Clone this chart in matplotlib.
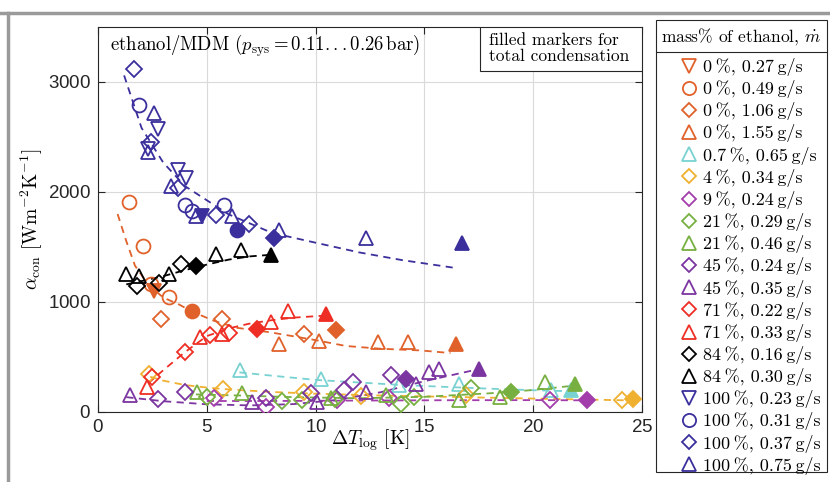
import matplotlib
matplotlib.use("Agg")
import matplotlib.pyplot as plt
from matplotlib.lines import Line2D
from matplotlib.patches import Rectangle

plt.rcParams['font.family'] = ['cmr10', 'DejaVu Serif']
plt.rcParams['mathtext.fontset'] = 'cm'
plt.rcParams['axes.unicode_minus'] = False
plt.rcParams['axes.formatter.use_mathtext'] = True

# --- colours ---
c_blue = '#3a2f9c'
c_orange = '#e0612a'
c_red = '#ee2e24'
c_cyan = '#78d2d2'
c_yellow = '#f0b030'
c_magenta = '#a23dab'
c_purple = '#7b35a0'
c_green = '#77b040'
c_black = '#000000'

# --- data (last point of every series = total condensation, filled) ---
# 0 %
x_0_027 = [2.58]
y_0_027 = [1102]
x_0_049 = [1.43, 2.05, 2.43, 3.27, 4.31]
y_0_049 = [1909, 1509, 1162, 1042, 915]
x_0_106 = [2.89, 5.72, 9.47, 10.92]
y_0_106 = [846, 846, 711, 741]
x_0_155 = [8.30, 10.16, 12.85, 14.23, 16.46]
y_0_155 = [620, 650, 635, 635, 620]
# 0.7 %
x_07_065 = [6.54, 10.24, 13.85, 16.61, 20.84, 21.76]
y_07_065 = [386, 304, 244, 259, 199, 199]
# 4 %
x_4_034 = [2.36, 5.74, 9.47, 12.1, 16.92, 24.06, 24.60]
y_4_034 = [350, 208, 184, 150, 154, 108, 115]
# 9 %
x_9_024 = [5.31, 7.73, 11.0, 13.39, 20.76, 22.45]
y_9_024 = [123, 48, 108, 123, 108, 108]
# 21 %
x_21_029 = [5.0, 8.46, 9.39, 10.9, 13.93, 14.54, 17.15, 19.0]
y_21_029 = [138, 102, 108, 120, 72, 138, 214, 184]
x_21_046 = [4.54, 6.61, 10.7, 13.23, 16.61, 18.46, 20.53, 21.91]
y_21_046 = [184, 175, 126, 154, 108, 138, 274, 259]
# 45 %
x_45_024 = [2.77, 4.0, 7.73, 9.8, 11.31, 11.7, 13.47, 14.16]
y_45_024 = [117, 184, 123, 170, 199, 274, 334, 304]
x_45_035 = [1.47, 7.07, 10.08, 12.3, 14.62, 15.23, 15.69, 17.50]
y_45_035 = [154, 93, 93, 184, 253, 364, 395, 395]
# 71 %
x_71_022 = [2.47, 4.0, 5.15, 6.0, 7.30]
y_71_022 = [319, 545, 696, 716, 756]
x_71_033 = [2.24, 4.69, 5.69, 7.95, 8.73, 10.49]
y_71_033 = [229, 680, 711, 816, 921, 891]
# 84 %
x_84_016 = [1.78, 2.81, 3.81, 4.50]
y_84_016 = [1147, 1177, 1343, 1328]
x_84_030 = [1.30, 1.89, 3.27, 5.42, 6.57, 7.95]
y_84_030 = [1253, 1238, 1253, 1434, 1470, 1427]
# 100 %
x_100_023 = [2.30, 2.78, 3.66, 4.04, 4.80]
y_100_023 = [2390, 2577, 2201, 2126, 1780]
x_100_031 = [1.89, 3.99, 4.34, 5.77, 6.41]
y_100_031 = [2794, 1879, 1825, 1879, 1659]
x_100_037 = [1.66, 2.43, 3.66, 5.42, 6.95, 8.10]
y_100_037 = [3119, 2457, 2035, 1795, 1705, 1578]
x_100_075 = [2.28, 2.59, 3.37, 4.50, 6.18, 8.34, 12.33, 16.74]
y_100_075 = [2367, 2719, 2051, 1780, 1780, 1650, 1584, 1538]

# --- dashed fit curves ---
fx_0 = [0.9, 1.3, 1.7, 2.3, 3.0, 3.7, 4.3, 5.3, 6.4, 7.9, 9.9, 11.4, 13.0, 14.8, 16.2]
fy_0 = [1800, 1554, 1330, 1160, 1040, 980, 915, 831, 765, 725, 657, 600, 575, 560, 536]
fx_07 = [6.5, 8.0, 10.0, 12.0, 14.0, 16.0, 18.0, 20.0, 21.8]
fy_07 = [360, 330, 292, 268, 245, 228, 212, 198, 188]
fx_4 = [2.4, 3.0, 4.0, 5.0, 6.0, 8.0, 10.0, 13.0, 16.0, 20.0, 24.6]
fy_4 = [320, 285, 245, 222, 205, 182, 166, 150, 138, 122, 105]
fx_9 = [5.0, 8.0, 12.0, 16.0, 20.0, 22.45]
fy_9 = [100, 100, 104, 107, 108, 106]
fx_21 = [4.5, 6.5, 9.0, 12.0, 15.0, 18.0, 20.0, 21.9]
fy_21 = [160, 150, 135, 125, 138, 170, 200, 240]
fx_45 = [1.3, 3.0, 5.0, 7.0, 9.0, 11.0, 13.0, 15.0, 17.5]
fy_45 = [135, 98, 70, 60, 72, 110, 180, 280, 390]
fx_71 = [2.3, 3.0, 4.0, 5.0, 6.0, 7.0, 8.0, 9.0, 10.4]
fy_71 = [260, 380, 545, 690, 760, 805, 835, 858, 876]
fx_84 = [1.3, 2.0, 3.0, 4.0, 5.0, 6.0, 7.0, 8.0]
fy_84 = [1160, 1190, 1235, 1290, 1340, 1385, 1415, 1430]
fx_100 = [1.2, 2.0, 3.0, 4.0, 6.0, 8.0, 10.0, 12.0, 14.0, 16.3]
fy_100 = [3060, 2583, 2267, 2053, 1797, 1628, 1539, 1451, 1380, 1313]

ts = '\u2009'  # thin space
series = [
    (x_0_027, y_0_027, 'v', c_orange, f'0{ts}%, 0.27{ts}g/s'),
    (x_0_049, y_0_049, 'o', c_orange, f'0{ts}%, 0.49{ts}g/s'),
    (x_0_106, y_0_106, 'D', c_orange, f'0{ts}%, 1.06{ts}g/s'),
    (x_0_155, y_0_155, '^', c_orange, f'0{ts}%, 1.55{ts}g/s'),
    (x_07_065, y_07_065, '^', c_cyan, f'0.7{ts}%, 0.65{ts}g/s'),
    (x_4_034, y_4_034, 'D', c_yellow, f'4{ts}%, 0.34{ts}g/s'),
    (x_9_024, y_9_024, 'D', c_magenta, f'9{ts}%, 0.24{ts}g/s'),
    (x_21_029, y_21_029, 'D', c_green, f'21{ts}%, 0.29{ts}g/s'),
    (x_21_046, y_21_046, '^', c_green, f'21{ts}%, 0.46{ts}g/s'),
    (x_45_024, y_45_024, 'D', c_purple, f'45{ts}%, 0.24{ts}g/s'),
    (x_45_035, y_45_035, '^', c_purple, f'45{ts}%, 0.35{ts}g/s'),
    (x_71_022, y_71_022, 'D', c_red, f'71{ts}%, 0.22{ts}g/s'),
    (x_71_033, y_71_033, '^', c_red, f'71{ts}%, 0.33{ts}g/s'),
    (x_84_016, y_84_016, 'D', c_black, f'84{ts}%, 0.16{ts}g/s'),
    (x_84_030, y_84_030, '^', c_black, f'84{ts}%, 0.30{ts}g/s'),
    (x_100_023, y_100_023, 'v', c_blue, f'100{ts}%, 0.23{ts}g/s'),
    (x_100_031, y_100_031, 'o', c_blue, f'100{ts}%, 0.31{ts}g/s'),
    (x_100_037, y_100_037, 'D', c_blue, f'100{ts}%, 0.37{ts}g/s'),
    (x_100_075, y_100_075, '^', c_blue, f'100{ts}%, 0.75{ts}g/s'),
]
fits = [
    (fx_0, fy_0, c_orange), (fx_07, fy_07, c_cyan), (fx_4, fy_4, c_yellow),
    (fx_9, fy_9, c_magenta), (fx_21, fy_21, c_green), (fx_45, fy_45, c_purple),
    (fx_71, fy_71, c_red), (fx_84, fy_84, c_black), (fx_100, fy_100, c_blue),
]

def msize(m):
    return 8 if m == 'D' else 10

fig = plt.figure(figsize=(8.3, 4.82), dpi=100)
ax = fig.add_axes([98 / 830, 70 / 482, 544 / 830, 385 / 482])

for fx, fy, c in fits:
    ax.plot(fx, fy, linestyle=(0, (4, 3)), color=c, lw=1.3, zorder=2)

handles = []
labels = []
for x, y, m, c, lab in series:
    ax.plot(x[:-1], y[:-1], linestyle='none', marker=m, ms=msize(m), mfc='none',
            mec=c, mew=1.3, zorder=3)
    ax.plot(x[-1:], y[-1:], linestyle='none', marker=m, ms=msize(m), mfc=c,
            mec=c, mew=1.3, zorder=3)
    handles.append(Line2D([], [], linestyle='none', marker=m, ms=msize(m) - 0.5,
                          mfc='none', mec=c, mew=1.3))
    labels.append(lab)

ax.set_xlim(0, 25)
ax.set_ylim(0, 3500)
ax.set_xticks([0, 5, 10, 15, 20, 25])
ax.set_yticks([0, 1000, 2000, 3000])
ax.grid(True, color='#dadada', lw=0.8)
ax.set_axisbelow(True)
ax.tick_params(direction='in', top=True, right=True, length=5, width=0.8, pad=5,
               labelsize=13.5, labelfontfamily='Liberation Sans', colors='#262626')
for s in ax.spines.values():
    s.set_color('#262626')
    s.set_linewidth(0.8)

ax.set_xlabel(r'$\Delta T_{\rm log}$ [K]', fontsize=14)
ax.set_ylabel(r'$\alpha_{\rm con}$ [Wm$^{-2}$K$^{-1}$]', fontsize=14)
ax.xaxis.set_label_coords(0.5, -0.04)
ax.yaxis.set_label_coords(-0.097, 0.5)

ax.text(0.022, 0.985, r'ethanol/MDM ($p_{\rm sys}=0.11...0.26\,$bar)',
        transform=ax.transAxes, va='top', ha='left', fontsize=13.5)

ax.add_patch(Rectangle((0.702, 0.885), 0.298, 0.115, transform=ax.transAxes,
                       fc='white', ec='#262626', lw=0.8, zorder=5))
ax.text(0.718, 0.985, 'filled markers for\ntotal condensation', transform=ax.transAxes,
        va='top', ha='left', fontsize=12.5, linespacing=1.05, zorder=6)

# legend: frame, title and separator drawn by hand
fig.add_artist(Rectangle((656 / 830, 10 / 482), 171 / 830, 452 / 482,
                         transform=fig.transFigure, fc='white', ec='#262626', lw=0.8))
fig.text(741.5 / 830, 1 - 37 / 482, r'mass% of ethanol, $\dot{m}$', ha='center',
         va='center', fontsize=12.5)
fig.add_artist(Line2D([656 / 830, 827 / 830], [1 - 52 / 482, 1 - 52 / 482],
                      transform=fig.transFigure, color='#262626', lw=0.8))
leg = fig.legend(handles, labels, loc='upper left',
                 bbox_to_anchor=(680 / 830, 1 - 58 / 482),
                 borderaxespad=0, borderpad=0, fontsize=13, frameon=False,
                 handlelength=1.0, handletextpad=0.25, labelspacing=0.23)

# grey frame of the surrounding page
fig.add_artist(Line2D([0, 1], [1 - 13 / 482, 1 - 13 / 482], transform=fig.transFigure,
                      color='#9a9a9a', lw=2.5))
fig.add_artist(Line2D([8 / 830, 8 / 830], [0, 1 - 13 / 482], transform=fig.transFigure,
                      color='#9a9a9a', lw=2.5))

fig.savefig('out.png', dpi=100)
